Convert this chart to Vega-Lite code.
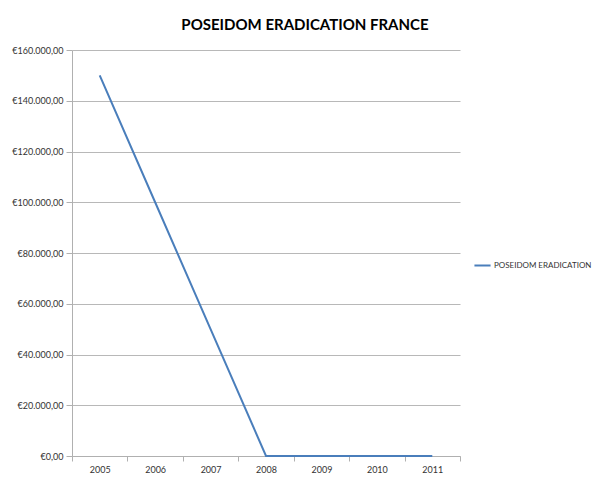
{
  "$schema": "https://vega.github.io/schema/vega-lite/v6.json",
  "width": 388,
  "height": 406,
  "autosize": {"type": "none"},
  "padding": {"left": 72, "top": 50, "right": 133, "bottom": 21},
  "background": "white",
  "config": {
    "view": {"stroke": null},
    "font": "Lato"
  },
  "title": {
    "text": "POSEIDOM ERADICATION FRANCE",
    "font": "Lato",
    "fontSize": 15,
    "fontWeight": "bold",
    "color": "#000000",
    "anchor": "middle",
    "dx": 39,
    "offset": 13
  },
  "data": {
    "values": [
      {"year": "2005", "value": 150000, "series": "POSEIDOM ERADICATION"},
      {"year": "2006", "value": 100000, "series": "POSEIDOM ERADICATION"},
      {"year": "2007", "value": 50000, "series": "POSEIDOM ERADICATION"},
      {"year": "2008", "value": 0, "series": "POSEIDOM ERADICATION"},
      {"year": "2009", "value": 0, "series": "POSEIDOM ERADICATION"},
      {"year": "2010", "value": 0, "series": "POSEIDOM ERADICATION"},
      {"year": "2011", "value": 0, "series": "POSEIDOM ERADICATION"}
    ]
  },
  "mark": {"type": "line", "strokeWidth": 2},
  "encoding": {
    "x": {
      "field": "year",
      "type": "ordinal",
      "bandPosition": 0.5,
      "scale": {"type": "band", "paddingInner": 0, "paddingOuter": 0},
      "axis": {
        "title": null,
        "labelAngle": 0,
        "tickBand": "extent",
        "grid": false,
        "domainColor": "#b0b0b0",
        "tickColor": "#b0b0b0",
        "tickSize": 5,
        "labelFontSize": 9,
        "labelColor": "#333333",
        "labelPadding": 4
      }
    },
    "y": {
      "field": "value",
      "type": "quantitative",
      "scale": {"domain": [0, 160000], "nice": false},
      "axis": {
        "title": null,
        "values": [0, 20000, 40000, 60000, 80000, 100000, 120000, 140000, 160000],
        "labelExpr": "'€' + replace(replace(replace(format(datum.value, ',.2f'), '.', ';'), ',', '.'), ';', ',')",
        "grid": true,
        "gridColor": "#b8b8b8",
        "domainColor": "#b0b0b0",
        "tickColor": "#b0b0b0",
        "tickSize": 6,
        "labelFontSize": 9,
        "labelColor": "#333333",
        "labelPadding": 3
      }
    },
    "color": {
      "field": "series",
      "type": "nominal",
      "scale": {"range": ["#4A7EBB"]},
      "legend": {
        "title": null,
        "orient": "none",
        "legendX": 401,
        "legendY": 206,
        "symbolType": "stroke",
        "symbolSize": 260,
        "symbolStrokeWidth": 2,
        "labelFontSize": 8,
        "labelColor": "#333333",
        "labelOffset": 2,
        "labelLimit": 200
      }
    }
  }
}
